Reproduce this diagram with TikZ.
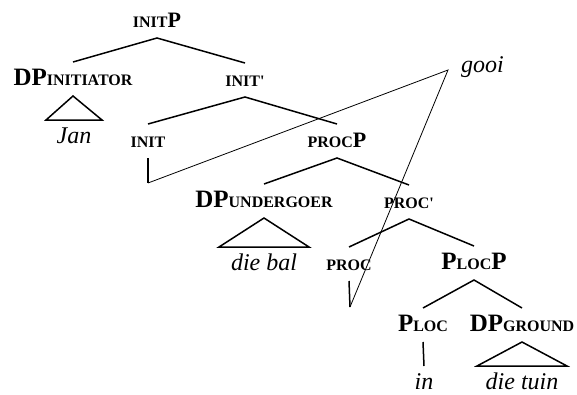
\documentclass[tikz,border=0pt]{standalone}
\usepackage{fontspec}
\setmainfont{Liberation Serif}
\usepackage{tikz}
\usetikzlibrary{calc}
\newcommand{\smc}[1]{{\fontsize{16pt}{16pt}\selectfont #1}}
\newcommand{\tri}[3]{\draw[br] (#1.south) -- ($(#2.north)+(-#3,0)$) -- ($(#2.north)+(#3,0)$) -- cycle;}

\begin{document}
\begin{tikzpicture}[
  x=1pt, y=-1pt,
  cat/.style={font=\bfseries\fontsize{25pt}{25pt}\selectfont,inner sep=0pt,
              text height=18pt,text depth=6pt,outer ysep=5pt,anchor=base},
  sm/.style={font=\bfseries\fontsize{22pt}{22pt}\selectfont},
  lf/.style={font=\itshape\fontsize{24pt}{24pt}\selectfont,inner sep=0pt,
             text height=16pt,text depth=0pt,outer ysep=7pt,anchor=base},
  br/.style={line width=1.5pt},
  mv/.style={line width=0.8pt}
]
\useasboundingbox (0,0) rectangle (577,394);

% labels
\node[cat,sm] (initP) at (157,27) {\smc{INIT}P};
\node[cat] (dpi)   at (73,85)   {DP\smc{INITIATOR}};
\node[cat] (initb) at (245,86)  {\smc{INIT\textquotesingle}};
\node[lf]  (jan)   at (74,143)  {Jan};
\node[cat] (init)  at (148,147) {\smc{INIT}};
\node[cat,sm] (procP) at (337,147) {\smc{PROC}P};
\node[cat] (dpu)   at (264,207) {DP\smc{UNDERGOER}};
\node[cat] (procb) at (409,208) {\smc{PROC\textquotesingle}};
\node[lf]  (diebal) at (264,270) {die bal};
\node[cat] (proc)  at (349,270) {\smc{PROC}};
\node[cat] (plocP) at (474,269) {P\smc{LOC}P};
\node[cat] (ploc)  at (423,331) {P\smc{LOC}};
\node[cat] (dpg)   at (522,331) {DP\smc{GROUND}};
\node[lf]  (in)    at (424,389) {in};
\node[lf]  (dietuin) at (522,389) {die tuin};
\node[font=\itshape\fontsize{24pt}{24pt}\selectfont,inner sep=0pt,text height=8pt,
      text depth=4pt,outer xsep=13pt,anchor=west] (gooi) at (448,70) {gooi};
\coordinate (t1) at (148,183);
\coordinate (t2) at (350,307);

% branches
\draw[br] (dpi.north) -- (initP.south) -- (initb.north);
\draw[br] (init.north) -- (initb.south) -- (procP.north);
\draw[br] (dpu.north) -- (procP.south) -- (procb.north);
\draw[br] (proc.north) -- (procb.south) -- (plocP.north);
\draw[br] (ploc.north) -- (plocP.south) -- (dpg.north);
\draw[br] (ploc.south) -- (in.north);
\tri{dpi}{jan}{28}
\tri{dpu}{diebal}{45}
\tri{dpg}{dietuin}{45}

% head movement
\draw[br] (init.south) -- (t1);
\draw[br] (proc.south) -- (t2);
\draw[mv] (t1) -- (gooi.west) -- (t2);
\end{tikzpicture}
\end{document}
